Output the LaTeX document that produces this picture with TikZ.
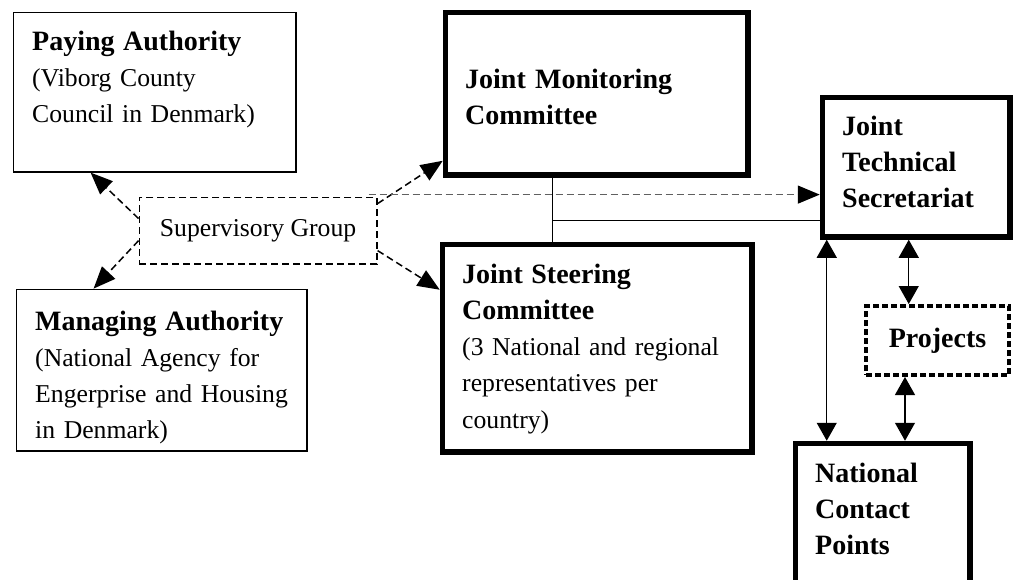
\documentclass[tikz,border=0pt]{standalone}
\usepackage{fontspec}
\setmainfont{Liberation Serif}
\usetikzlibrary{arrows.meta,calc}
\begin{document}
\begin{tikzpicture}[x=1pt,y=-1pt,
  thinbox/.style={draw,line width=1.3pt,inner sep=0pt,anchor=north west},
  thickbox/.style={draw,line width=5.5pt,inner sep=0pt,anchor=north west},
  sgbox/.style={draw,line width=1.3pt,dash pattern=on 7pt off 4pt,inner sep=0pt,anchor=north west,
     font=\fontsize{25.7}{36.3}\selectfont},
  projbox/.style={draw,line width=4pt,dash pattern=on 6pt off 3pt,inner sep=0pt,anchor=north west,
     font=\bfseries\fontsize{28}{36.3}\selectfont},
  label/.style={anchor=base west,inner sep=0pt,text width=320pt,align=left,
     font=\fontsize{25.7}{36.3}\selectfont},
  dasharrow/.style={line width=1.5pt,dash pattern=on 7pt off 4pt,
     -{Triangle[length=22pt,width=18pt,color=black,fill=black]}},
  solidline/.style={line width=1.1pt},
  dbl/.style={line width=1.2pt,
     {Triangle[length=18pt,width=20pt]}-{Triangle[length=18pt,width=20pt]}}
]
\useasboundingbox (0,0) rectangle (1013,579);

% boxes
\node[thinbox,minimum width=282.7pt,minimum height=159.7pt] (pa) at (12.6,11.6) {};
\node[thinbox,minimum width=290.7pt,minimum height=161.7pt] (ma) at (15.6,288.6) {};
\node[sgbox,minimum width=237.7pt,minimum height=66.7pt] (sg) at (138.6,196.6) {Supervisory Group};
\node[thickbox,minimum width=302.5pt,minimum height=162.5pt] (jmc) at (442.75,9.75) {};
\node[thickbox,minimum width=309.5pt,minimum height=207.5pt] (jsc) at (439.75,241.75) {};
\node[thickbox,minimum width=187.5pt,minimum height=139.5pt] (jts) at (819.75,94.75) {};
\node[thickbox,minimum width=174.5pt,minimum height=150pt] (ncp) at (792.75,440.75) {};
\node[projbox,minimum width=143pt,minimum height=69pt] (proj) at (864,304) {Projects};

% texts
\node[label] (pa-t) at (32,50) {{\bfseries\fontsize{28}{36.3}\selectfont Paying Authority}\\(Viborg County\\Council in Denmark)};
\node[label] (ma-t) at (35,330) {{\bfseries\fontsize{28}{36.3}\selectfont Managing Authority}\\(National Agency for\\Engerprise and Housing\\in Denmark)};
\node[label,font=\bfseries\fontsize{28}{36.3}\selectfont] (jmc-t) at (465,88) {Joint Monitoring\\Committee};
\node[label] (jsc-t) at (462,283) {{\bfseries\fontsize{28}{36.3}\selectfont Joint Steering\\Committee}\\(3 National and regional\\representatives per\\country)};
\node[label,font=\bfseries\fontsize{28}{36.3}\selectfont] (jts-t) at (842,135) {Joint\\Technical\\Secretariat};
\node[label,font=\bfseries\fontsize{28}{36.3}\selectfont] (ncp-t) at (815,482) {National\\Contact\\Points};

% dashed arrows from the supervisory group
\draw[dasharrow] ($(sg.west)+(0,-12)$) -- ($(pa.south west)+(78,0)$);
\draw[dasharrow] ($(sg.west)+(0,10)$) -- ($(ma.north west)+(78,0)$);
\draw[dasharrow] ($(sg.east)+(0,-27)$) -- ($(jmc.south west)+(0,-17)$);
\draw[dasharrow] ($(sg.east)+(0,20)$) -- ($(jsc.north west)+(0,48)$);
\coordinate (gs) at ($(sg.north east)+(-9,-2)$);
\draw[dasharrow,draw=gray!75!black] (gs) -- (gs -| jts.west);

% solid connections
\coordinate (vj) at ($(jmc.south west)+(110,0)$);
\draw[solidline] (vj) -- (vj |- jsc.north);
\coordinate (hj) at ($(jmc.south west)+(110,43)$);
\draw[solidline] (hj) -- (hj -| jts.west);

\coordinate (l1) at ($(jts.south west)+(7,0)$);
\draw[dbl] (l1) -- (l1 |- ncp.north);
\coordinate (r1) at ($(jts.south west)+(89,0)$);
\draw[dbl] (r1) -- (r1 |- proj.north);
\coordinate (r2) at ($(proj.south west)+(41,0)$);
\draw[dbl] (r2) -- (r2 |- ncp.north);
\end{tikzpicture}
\end{document}
